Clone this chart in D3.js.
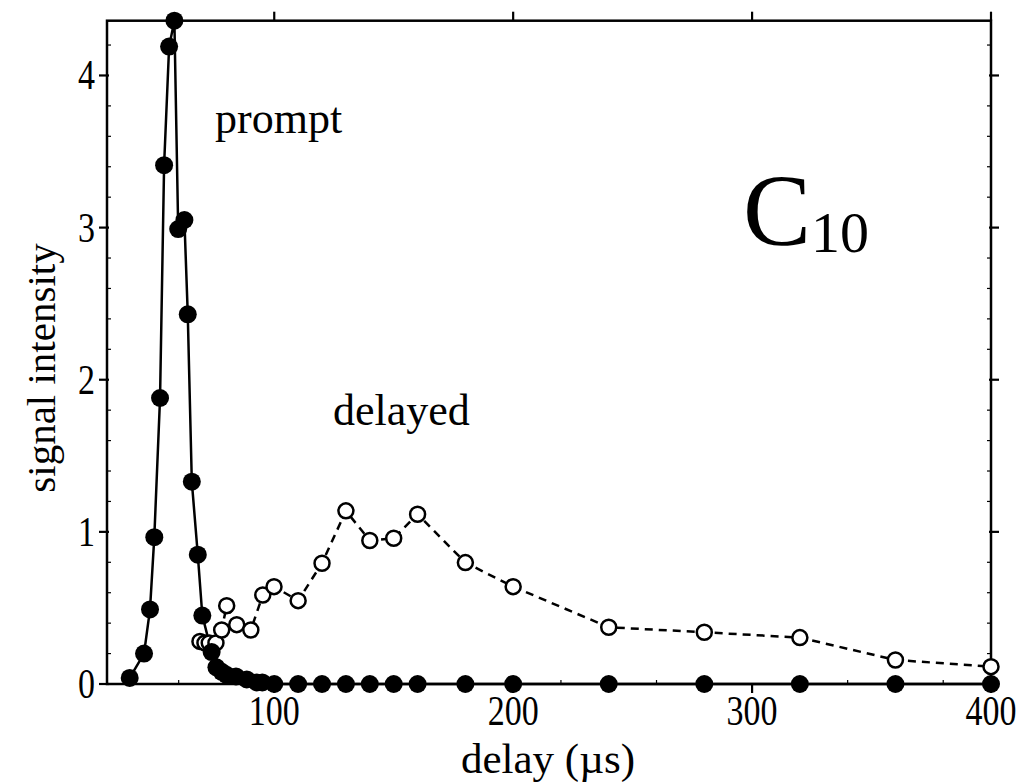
<!DOCTYPE html>
<html><head><meta charset="utf-8">
<script src="https://cdn.jsdelivr.net/npm/d3@7"></script>
<style>body{margin:0;background:#fff}svg{display:block}text{font-family:"Liberation Serif","Times New Roman",serif;fill:#000}</style>
</head><body>
<script>
const promptX = [39.5,45.5,48,49.8,52.2,53.9,56,58.2,59.8,62.4,63.8,65.5,68,69.9,73.8,75.8,78,80,84,88.5,92.7,95,100,110,120,130,140,150,160,180,200,240,280,320,360,400];
const promptY = [0.04,0.2,0.49,0.965,1.88,3.41,4.19,4.36,2.99,3.05,2.43,1.33,0.85,0.45,0.21,0.11,0.08,0.06,0.05,0.03,0.01,0.01,0,0,0,0,0,0,0,0,0,0,0,0,0,0];
const delayedX = [68.9,71,72.8,75.6,78,80.1,84.3,90.2,95.2,99.9,110,120,130,140,150,160,180,200,240,280,320,360,400];
const delayedY = [0.28,0.27,0.27,0.27,0.355,0.515,0.39,0.355,0.585,0.64,0.548,0.794,1.138,0.943,0.958,1.116,0.798,0.64,0.373,0.34,0.305,0.158,0.114];
const xTicks = [100,200,300,400];
const yTicks = [0,1,2,3,4];

const W=1022,H=782;
const svg=d3.select("body").append("svg").attr("width",W).attr("height",H);
const L=107,R=991,T=20.7,B=684;
const x=d3.scaleLinear().domain([30,400]).range([L,R]);
const y=d3.scaleLinear().domain([0,4.36]).range([B,T]);

// minor ticks
const xMinor=d3.range(40,400,20).filter(v=>v%100!==0);
const yMinor=d3.range(0.2,4.36,0.2).filter(v=>Math.abs(v-Math.round(v))>1e-6);
const g=svg.append("g").attr("stroke","#000");
g.selectAll(".mxb").data(xMinor).join("line").attr("x1",d=>x(d)).attr("x2",d=>x(d)).attr("y1",B).attr("y2",B-4).attr("stroke-width",1.2);
g.selectAll(".myl").data(yMinor).join("line").attr("x1",L).attr("x2",L+4).attr("y1",d=>y(d)).attr("y2",d=>y(d)).attr("stroke-width",1.2);
g.selectAll(".myr").data(yMinor).join("line").attr("x1",R).attr("x2",R-4).attr("y1",d=>y(d)).attr("y2",d=>y(d)).attr("stroke-width",1.2);
// major ticks
g.selectAll(".tb").data(xTicks).join("line").attr("x1",d=>x(d)).attr("x2",d=>x(d)).attr("y1",B).attr("y2",B+9).attr("stroke-width",2.2);
g.selectAll(".tt").data(xTicks).join("line").attr("x1",d=>x(d)).attr("x2",d=>x(d)).attr("y1",T).attr("y2",T-9).attr("stroke-width",2.2);
g.selectAll(".tl").data(yTicks).join("line").attr("x1",L-8).attr("x2",L+2).attr("y1",d=>y(d)).attr("y2",d=>y(d)).attr("stroke-width",2.2);
g.selectAll(".tr").data(yTicks).join("line").attr("x1",R-2).attr("x2",R+8).attr("y1",d=>y(d)).attr("y2",d=>y(d)).attr("stroke-width",2.2);
// frame
svg.append("rect").attr("x",L).attr("y",T).attr("width",R-L).attr("height",B-T).attr("fill","none").attr("stroke","#000").attr("stroke-width",2.5);

// tick labels (tall, narrow serif digits)
svg.selectAll(".xl").data(xTicks).join("text")
  .attr("transform",d=>`translate(${x(d)},${B+41}) scale(1,1.25)`)
  .attr("text-anchor","middle").attr("font-size",34).text(d=>d);
svg.selectAll(".yl").data(yTicks).join("text")
  .attr("transform",d=>`translate(${L-12},${y(d)+14}) scale(1,1.25)`)
  .attr("text-anchor","end").attr("font-size",34).text(d=>d);

// axis titles
svg.append("text").attr("x",548).attr("y",773).attr("text-anchor","middle").attr("font-size",43).text("delay (µs)");
svg.append("text").attr("transform","translate(55,368) rotate(-90)").attr("text-anchor","middle").attr("font-size",41).text("signal intensity");

// series
const pdata=promptX.map((v,i)=>[v,promptY[i]]);
const ddata=delayedX.map((v,i)=>[v,delayedY[i]]);
const line=d3.line().x(d=>x(d[0])).y(d=>y(d[1]));
svg.append("path").datum(ddata).attr("d",line).attr("fill","none").attr("stroke","#000").attr("stroke-width",2.5).attr("stroke-dasharray","8,6");
svg.append("path").datum(pdata).attr("d",line).attr("fill","none").attr("stroke","#000").attr("stroke-width",2.5);
svg.selectAll(".od").data(ddata).join("circle").attr("cx",d=>x(d[0])).attr("cy",d=>y(d[1])).attr("r",7.5).attr("fill","#fff").attr("stroke","#000").attr("stroke-width",2.5);
svg.selectAll(".fp").data(pdata).join("circle").attr("cx",d=>x(d[0])).attr("cy",d=>y(d[1])).attr("r",9).attr("fill","#000");

// annotations
svg.append("text").attr("x",215).attr("y",133).attr("font-size",44).text("prompt");
svg.append("text").attr("x",333).attr("y",425).attr("font-size",44).text("delayed");
const c=svg.append("text").attr("x",743).attr("y",245).attr("font-size",102);
c.append("tspan").text("C");
c.append("tspan").attr("font-size",58).attr("dy",7).text("10");
</script>
</body></html>
